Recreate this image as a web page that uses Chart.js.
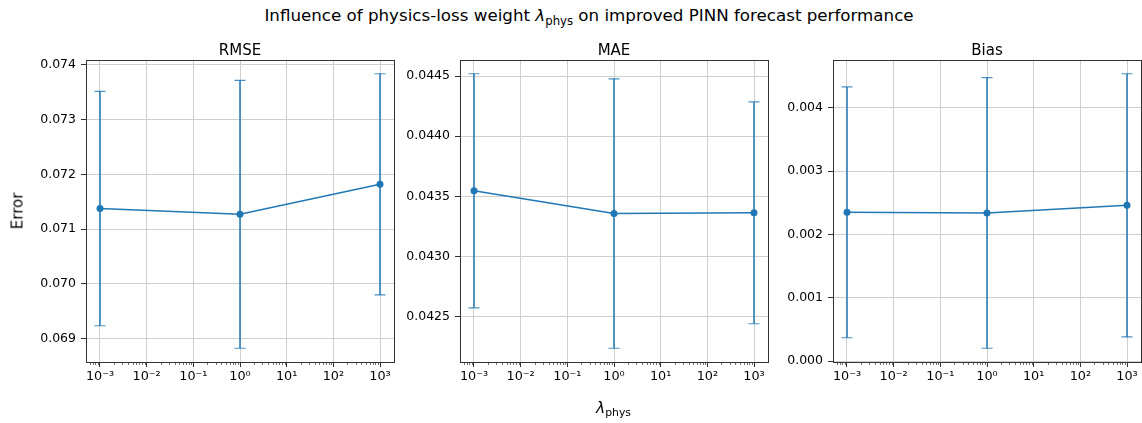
<!DOCTYPE html>
<html>
<head>
<meta charset="utf-8">
<script src="https://cdn.jsdelivr.net/npm/chart.js@4.4.1/dist/chart.umd.min.js"></script>
<style>
  html, body { margin: 0; padding: 0; background: #fff; overflow: hidden; }
  #fig { position: relative; width: 1142px; height: 423px; overflow: hidden; font-family: 'DejaVu Sans', sans-serif; color: #000; }
  #fig canvas { position: absolute; top: 0; }
  .txt { position: absolute; white-space: nowrap; line-height: 1; }
  #suptitle { font-size: 16.7px; top: 7px; left: 589px; transform: translateX(-50%); }
  #xlabel { font-size: 15.5px; top: 401px; left: 613.5px; transform: translateX(-50%); }
  #ylabel { font-size: 15px; top: 211px; left: 18px; transform: translate(-50%, -50%) rotate(-90deg); }
  sub { font-size: 70%; vertical-align: -0.3em; line-height: 0; }
  i { font-style: italic; }
</style>
</head>
<body>
<div id="fig">
  <div class="txt" id="suptitle">Influence of physics-loss weight <i>λ</i><sub>phys</sub> on improved PINN forecast performance</div>
  <canvas id="c0" width="428" height="423"></canvas>
  <canvas id="c1" width="428" height="423"></canvas>
  <canvas id="c2" width="428" height="423"></canvas>
  <div class="txt" id="xlabel"><i>λ</i><sub>phys</sub></div>
  <div class="txt" id="ylabel">Error</div>
</div>
<script>
// physics-loss weights tried
const lambdas = [1e-3, 1, 1e3];

// mean and std over runs for each metric
const rmseMean = [0.071375, 0.071271, 0.071819];
const rmseStd = [0.00214, 0.002447, 0.00202];
const maeMean = [0.043546, 0.043357, 0.043363];
const maeStd = [0.000973, 0.00112, 0.000922];
const biasMean = [0.002347, 0.002337, 0.002458];
const biasStd = [0.00198, 0.002136, 0.002078];

// tick positions and labels
const xTicks = [1e-3, 1e-2, 1e-1, 1, 1e1, 1e2, 1e3];
const xTickLabels = ['10⁻³', '10⁻²', '10⁻¹', '10⁰', '10¹', '10²', '10³'];
const rmseTicks = [0.069, 0.070, 0.071, 0.072, 0.073, 0.074];
const maeTicks = [0.0425, 0.0430, 0.0435, 0.0440, 0.0445];
const biasTicks = [0.000, 0.001, 0.002, 0.003, 0.004];

const BLUE = '#1f77b4';
const FONT = "'DejaVu Sans', sans-serif";
const AXIS_W = 80;
const plotLefts = [86, 459.5, 833];

// error bars, frame, minor ticks and panel title
const panelDecor = {
  id: 'panelDecor',
  beforeDatasetsDraw(chart, args, opts) {
    const { ctx } = chart;
    const xs = chart.scales.x, ys = chart.scales.y;
    const pts = chart.data.datasets[0].data;
    ctx.save();
    ctx.strokeStyle = BLUE;
    pts.forEach((p, i) => {
      const px = xs.getPixelForValue(p.x);
      const top = ys.getPixelForValue(p.y + opts.err[i]);
      const bot = ys.getPixelForValue(p.y - opts.err[i]);
      ctx.lineWidth = 1.5;
      ctx.beginPath();
      ctx.moveTo(px, top);
      ctx.lineTo(px, bot);
      ctx.stroke();
      ctx.globalAlpha = 0.8;
      ctx.lineWidth = 1.2;
      ctx.beginPath();
      ctx.moveTo(px - 5.5, top); ctx.lineTo(px + 5.5, top);
      ctx.moveTo(px - 5.5, bot); ctx.lineTo(px + 5.5, bot);
      ctx.stroke();
      ctx.globalAlpha = 1;
    });
    ctx.restore();
  },
  afterDraw(chart, args, opts) {
    const { ctx, chartArea: a } = chart;
    const xs = chart.scales.x;
    ctx.save();
    // minor ticks on the log axis
    ctx.strokeStyle = '#333';
    ctx.lineWidth = 0.7;
    ctx.beginPath();
    for (let k = -4; k <= 3; k++) {
      for (let m = 2; m <= 9; m++) {
        const v = m * Math.pow(10, k);
        if (v < xs.min || v > xs.max) continue;
        const px = Math.round(xs.getPixelForValue(v)) + 0.5;
        ctx.moveTo(px, a.bottom);
        ctx.lineTo(px, a.bottom + 3);
      }
    }
    ctx.stroke();
    // frame
    ctx.strokeStyle = '#333';
    ctx.lineWidth = 1;
    ctx.strokeRect(Math.round(a.left) + 0.5, Math.round(a.top) + 0.5,
      Math.round(a.right - a.left), Math.round(a.bottom - a.top));
    // title
    ctx.fillStyle = '#000';
    ctx.font = '15px ' + FONT;
    ctx.textAlign = 'center';
    ctx.textBaseline = 'alphabetic';
    ctx.fillText(opts.title, (a.left + a.right) / 2, a.top - 5);
    ctx.restore();
  }
};

// y range with 5% margins around the error bars
function yRange(mean, std) {
  const lo = Math.min(...mean.map((m, i) => m - std[i]));
  const hi = Math.max(...mean.map((m, i) => m + std[i]));
  const pad = (hi - lo) * 0.05;
  return [lo - pad, hi + pad];
}

function makePanel(id, idx, title, mean, std, yTicks, digits) {
  const canvas = document.getElementById(id);
  canvas.style.left = (plotLefts[idx] - AXIS_W) + 'px';
  const [ymin, ymax] = yRange(mean, std);
  return new Chart(canvas, {
    type: 'line',
    data: {
      datasets: [{
        data: lambdas.map((x, i) => ({ x: x, y: mean[i] })),
        borderColor: BLUE,
        backgroundColor: BLUE,
        borderWidth: 1.5,
        pointRadius: 3.5,
        pointBorderWidth: 0,
        pointBackgroundColor: BLUE,
        tension: 0
      }]
    },
    options: {
      responsive: false,
      animation: false,
      devicePixelRatio: 1,
      layout: { padding: { top: 60, right: 40, left: 0, bottom: 0 } },
      plugins: {
        legend: { display: false },
        tooltip: { enabled: false },
        panelDecor: { title: title, err: std }
      },
      scales: {
        x: {
          type: 'logarithmic',
          min: Math.pow(10, -3.3),
          max: Math.pow(10, 3.3),
          bounds: 'data',
          afterBuildTicks: s => { s.ticks = xTicks.map(v => ({ value: v })); },
          afterFit: s => { s.height = 61; },
          ticks: {
            autoSkip: false,
            maxRotation: 0,
            padding: 2,
            color: '#000',
            font: { family: FONT, size: 12.8 },
            callback: (v, i) => xTickLabels[i]
          },
          grid: { color: '#cfcfcf', lineWidth: 1, tickLength: 5, tickColor: '#333', tickWidth: 1 },
          border: { display: false }
        },
        y: {
          type: 'linear',
          min: ymin,
          max: ymax,
          bounds: 'data',
          afterBuildTicks: s => { s.ticks = yTicks.map(v => ({ value: v })); },
          afterFit: s => { s.width = AXIS_W; },
          ticks: {
            padding: 5,
            color: '#000',
            font: { family: FONT, size: 12.5 },
            callback: v => v.toFixed(digits)
          },
          grid: { color: '#cfcfcf', lineWidth: 1, tickLength: 5, tickColor: '#333', tickWidth: 1 },
          border: { display: false }
        }
      }
    },
    plugins: [panelDecor]
  });
}

makePanel('c0', 0, 'RMSE', rmseMean, rmseStd, rmseTicks, 3);
makePanel('c1', 1, 'MAE', maeMean, maeStd, maeTicks, 4);
makePanel('c2', 2, 'Bias', biasMean, biasStd, biasTicks, 3);
</script>
</body>
</html>
